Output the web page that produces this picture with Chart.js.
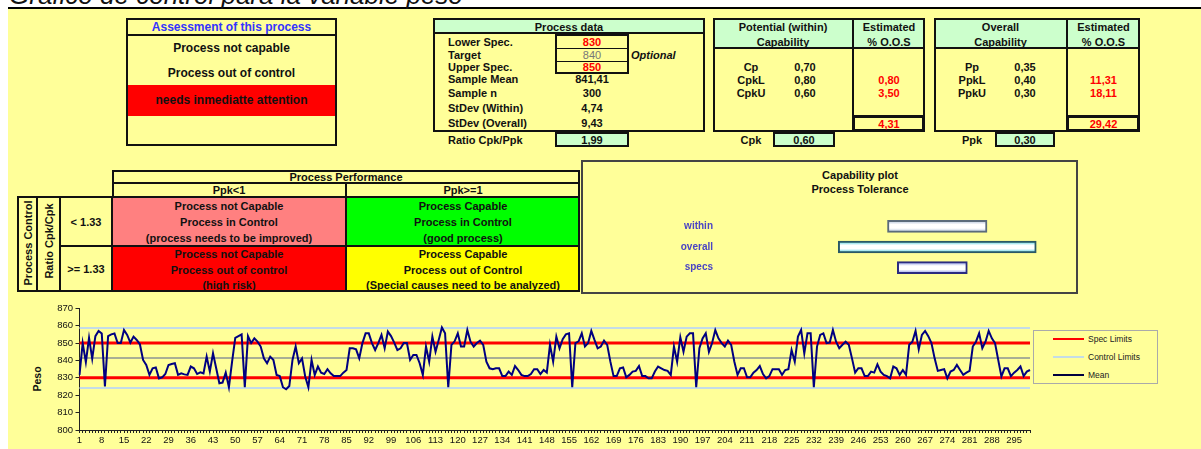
<!DOCTYPE html>
<html>
<head>
<meta charset="utf-8">
<script src="https://cdn.jsdelivr.net/npm/chart.js@4.4.1/dist/chart.umd.min.js"></script>
<style>
body { margin:0; width:1201px; height:449px; overflow:hidden; background:#fff; position:relative;
       font-family:"Liberation Sans", Arial, sans-serif; color:#111; }
#sheet { position:absolute; left:8px; top:9px; right:0; bottom:0; background:#FFFF99; }
#rule { position:absolute; left:8px; top:7px; right:0; height:2px; background:#000; }
#title { position:absolute; left:9px; top:-18px; font-size:26px; line-height:26px; font-style:italic; white-space:nowrap; }
.b { position:absolute; box-sizing:border-box; }
.t { position:absolute; white-space:nowrap; font-weight:bold; font-size:11px; line-height:12px; transform:translate(-50%,-50%); }
.l { position:absolute; white-space:nowrap; font-weight:bold; font-size:11px; line-height:12px; transform:translateY(-50%); }
canvas { position:absolute; }
#capChart { left:660px; top:208px; }
#ctrlChart { left:0; top:300px; }
</style>
</head>
<body>
<div id="sheet"></div>
<div id="rule"></div>
<div id="title">Gráfico de control para la variable peso</div>
<div id="page"></div>
<canvas id="capChart" width="413" height="78"></canvas>
<canvas id="ctrlChart" width="1040" height="149"></canvas>
<script>
// ---- data ----
var assessment = ['Process not capable', 'Process out of control', 'needs inmediatte attention'];
var processLabels = ['Lower Spec.', 'Target', 'Upper Spec.', 'Sample Mean', 'Sample n', 'StDev (Within)', 'StDev (Overall)'];
var processValues = ['830', '840', '850', '841,41', '300', '4,74', '9,43'];
var ratioCpkPpk = '1,99';
var withinLabels = ['Cp', 'CpkL', 'CpkU'];
var withinValues = ['0,70', '0,80', '0,60'];
var withinOOS = ['', '0,80', '3,50'];
var withinTotal = '4,31';
var cpk = '0,60';
var overallLabels = ['Pp', 'PpkL', 'PpkU'];
var overallValues = ['0,35', '0,40', '0,30'];
var overallOOS = ['', '11,31', '18,11'];
var overallTotal = '29,42';
var ppk = '0,30';

var capLabels = ['within', 'overall', 'specs'];
var capLow = [827.19, 813.12, 830];
var capHigh = [855.63, 869.70, 850];

var specLimits = [830, 850];
var controlLimits = [824.2, 858.6];
var meanValue = 841.41;
var peso = [
  831.7, 850, 839, 853, 841, 854, 857, 855.5, 825, 854,
  855, 855.5, 850, 850, 857.5, 854.7, 850.3, 853.7, 851.8, 849.3,
  840.3, 837.4, 831.7, 835.5, 836, 829.7, 830.3, 832.2, 837.4, 838,
  838.4, 831.7, 832.6, 832, 831.7, 836.5, 835.5, 832.2, 833.2, 832.6,
  842.2, 833.6, 844.1, 835.5, 826.9, 827.3, 833, 824.6, 839.3, 853,
  854, 855, 824.6, 854, 850, 852.7, 850.8, 848, 841.2, 838.4,
  842.2, 840.3, 831.7, 831, 824.6, 823.4, 825.3, 840.3, 848, 838.4,
  841.2, 830.8, 824.6, 840.3, 831.7, 836.5, 833, 832.2, 835, 832.6,
  831, 831, 831, 833, 834.5, 847, 847, 846.4, 841.2, 850,
  855.6, 855.6, 850, 846, 850, 854.7, 847, 856.6, 854, 850.3,
  846, 847, 850, 850, 840.3, 843.2, 843.2, 838.4, 831.7, 848,
  839.3, 853.7, 845, 851.8, 859, 855.6, 824.6, 849, 851, 855.6,
  848, 848, 857.5, 850.8, 848, 850, 851.4, 849, 839.3, 835.5,
  835, 835.5, 835.5, 831, 831, 833.6, 831.7, 836.8, 834.5, 831.7,
  831, 831, 832.2, 835, 835, 832.2, 834.5, 833, 849, 839.3,
  853.7, 847, 852.2, 855, 855.6, 824.6, 850, 851, 855.6, 848,
  850, 857, 851.8, 847, 848, 851.4, 849, 839.3, 831, 831,
  835.5, 836, 830.3, 831.7, 833.6, 834, 836.8, 831, 831, 829.7,
  829.7, 833.6, 836.5, 835.5, 834.5, 834, 831.7, 848, 839.3, 853.3,
  845, 853.7, 855.6, 855.6, 824.6, 847, 852.7, 855.6, 845, 850,
  857.5, 852.7, 850, 848, 851.4, 849, 839.3, 831.7, 835.5, 835.5,
  830.3, 830.3, 833, 834.5, 836.8, 832.2, 829.7, 831, 835, 835,
  835, 831.7, 834.5, 835, 846, 839.3, 853.7, 857.5, 844.1, 855.6,
  855.6, 824.6, 848, 854.7, 855.6, 850, 850.3, 857.5, 850.8, 847,
  849, 850.8, 849, 841.2, 833, 835.5, 835.5, 831, 831, 833.6,
  833, 837.8, 833.6, 831.7, 831, 829.7, 836.5, 835.5, 831.7, 834.5,
  831.7, 849, 850.8, 857, 846.4, 854.7, 857, 854, 850, 841.2,
  834, 834.5, 835, 829.7, 833.6, 834.5, 837.4, 834.5, 831.7, 833,
  834, 848, 850.8, 855.6, 847, 850.8, 857, 852.7, 850, 840.3,
  830.8, 835.5, 835.5, 831, 833, 834.5, 836.5, 831, 833.6, 834.5
];
var sampleNo = peso.map(function (v, i) { return String(i + 1); });

// ---- sheet helpers ----
var page = document.getElementById('page');
var LINE = '2px solid #111';
function rect(x1, y1, x2, y2, css) {
    var d = document.createElement('div');
    d.className = 'b';
    d.style.cssText = 'left:' + x1 + 'px;top:' + y1 + 'px;width:' + (x2 - x1) + 'px;height:' + (y2 - y1) + 'px;' + (css || '');
    page.appendChild(d);
}
function txt(x, y, s, css, cls) {
    var d = document.createElement('div');
    d.className = cls || 't';
    d.style.cssText = 'left:' + x + 'px;top:' + y + 'px;' + (css || '');
    d.textContent = s;
    page.appendChild(d);
}

// assessment box
rect(126, 18, 337, 146, 'border:' + LINE);
rect(126, 34, 337, 36, 'background:#111');
rect(128, 85, 335, 116, 'background:#ff0000');
txt(231.5, 26.5, 'Assessment of this process', 'font-size:12px;color:#3333ff');
txt(231.5, 48, assessment[0], 'font-size:12px');
txt(231.5, 72.5, assessment[1], 'font-size:12px');
txt(231.5, 100, assessment[2], 'font-size:12px');

// process data
rect(433, 18, 705, 132, 'border:' + LINE);
rect(435, 20, 703, 34, 'background:#ccffcc;border-bottom:' + LINE);
txt(569, 26.7, 'Process data');
rect(555, 34, 629, 74, 'border:' + LINE);
rect(555, 47.5, 629, 61.5, 'border-top:1px solid #111;border-bottom:1px solid #111');
var rowY = [41.7, 55, 67.3, 79.3, 93.3, 108.3, 123.3];
processLabels.forEach(function (p, i) {
    txt(448, rowY[i], p, '', 'l');
    var css = '';
    if (i === 0 || i === 2) css = 'color:#ff0000';
    if (i === 1) css = 'color:#777;font-weight:normal';
    txt(592, rowY[i], processValues[i], css);
});
txt(631, 55, 'Optional', 'font-style:italic', 'l');
txt(448, 140, 'Ratio Cpk/Ppk', '', 'l');
rect(555, 132, 629, 147, 'background:#ccffcc;border:' + LINE);
txt(592, 139.5, ratioCpkPpk);

// potential (within) / overall capability
function capBlock(x1, xDiv, x2, head, labX, valX, labels, values, oos, total, kLabel, kBoxX1, kBoxX2, kVal) {
    rect(x1, 18, x2, 132, 'border:' + LINE);
    rect(x1 + 2, 20, x2 - 2, 48, 'background:#ccffcc');
    rect(x1, 47, x2, 49, 'background:#111');
    rect(xDiv - 1, 18, xDiv + 1, 132, 'background:#111');
    txt((x1 + xDiv) / 2, 27.3, head);
    txt((x1 + xDiv) / 2, 41.7, 'Capability');
    txt((xDiv + x2) / 2, 27.3, 'Estimated');
    txt((xDiv + x2) / 2, 41.7, '% O.O.S');
    var ys = [67.3, 80, 93.3];
    labels.forEach(function (lb, i) {
        txt(labX, ys[i], lb);
        txt(valX, ys[i], values[i]);
        if (oos[i]) txt((xDiv + x2) / 2, ys[i], oos[i], 'color:#ff0000');
    });
    rect(xDiv - 1, 114.5, x2, 132, 'border:3px solid #111');
    txt((xDiv + x2) / 2, 123.5, total, 'color:#ff0000');
    txt(labX, 140, kLabel);
    rect(kBoxX1, 132, kBoxX2, 147, 'background:#ccffcc;border:' + LINE);
    txt((kBoxX1 + kBoxX2) / 2, 139.5, kVal);
}
capBlock(713, 853, 925, 'Potential (within)', 751, 805, withinLabels, withinValues, withinOOS, withinTotal, 'Cpk', 773, 835, cpk);
capBlock(934, 1067, 1140, 'Overall', 972, 1025, overallLabels, overallValues, overallOOS, overallTotal, 'Ppk', 995, 1055, ppk);

// process performance matrix
rect(112, 170, 580, 184, 'border:' + LINE);
txt(346, 176.5, 'Process Performance');
rect(112, 182, 347, 198, 'border:' + LINE);
rect(345, 182, 580, 198, 'border:' + LINE);
txt(229, 190, 'Ppk<1');
txt(463, 190, 'Ppk>=1');
rect(17, 196, 38, 292, 'border:' + LINE);
rect(36, 196, 61, 292, 'border:' + LINE);
rect(59, 196, 113, 247, 'border:' + LINE);
rect(59, 245, 113, 292, 'border:' + LINE);
txt(27.5, 243, 'Process Control', 'transform:translate(-50%,-50%) rotate(-90deg)');
txt(48.5, 241, 'Ratio Cpk/Cpk', 'transform:translate(-50%,-50%) rotate(-90deg)');
txt(86, 221.5, '< 1.33');
txt(86, 268.5, '>= 1.33');
rect(111, 196, 347, 247, 'background:#ff8080;border:' + LINE);
rect(345, 196, 580, 247, 'background:#00ff00;border:' + LINE);
rect(111, 245, 347, 292, 'background:#ff0000;border:' + LINE);
rect(345, 245, 580, 292, 'background:#ffff00;border:' + LINE);
var cells = [
    [229, [206, 222.3, 237.5], ['Process not Capable', 'Process in Control', '(process needs to be improved)']],
    [463, [206, 222.3, 237.5], ['Process Capable', 'Process in Control', '(good process)']],
    [229, [254, 269.5, 285], ['Process not Capable', 'Process out of control', '(high risk)']],
    [463, [254, 269.5, 285], ['Process Capable', 'Process out of Control', '(Special causes need to be analyzed)']]
];
cells.forEach(function (c) {
    c[2].forEach(function (s, i) { txt(c[0], c[1][i], s); });
});

// capability plot frame
rect(581, 160, 1078, 294, 'border:2px solid #444');
txt(860, 175, 'Capability plot');
txt(860, 188.5, 'Process Tolerance');

// control chart axis title + legend
txt(37, 379, 'Peso', 'font-size:10.5px;transform:translate(-50%,-50%) rotate(-90deg)');
rect(1033, 330, 1158, 384, 'border:1px solid #aaa');
var legendItems = [['Spec Limits', '#ff0000', 2.5, 339], ['Control Limits', '#c4dce6', 2, 357.3], ['Mean', '#000040', 1.2, 375]];
legendItems.forEach(function (it) {
    rect(1053, it[3] - it[2] / 2, 1084, it[3] + it[2] / 2, 'background:' + it[1]);
    txt(1088, it[3], it[0], 'font-weight:normal;font-size:8.5px;line-height:10px;color:#222', 'l');
});

// ---- capability chart ----
var capEdge = ['#5b6b7b', '#2a5866', '#2b2b80'];
var capTint = ['#a9bbd4', '#33c8d8', '#8190e2'];
new Chart(document.getElementById('capChart'), {
    type: 'bar',
    data: {
        labels: capLabels,
        datasets: [{
            data: capLabels.map(function (c, i) { return [capLow[i], capHigh[i]]; }),
            backgroundColor: function (c) {
                var sc = c.chart.scales.y;
                var y = (sc && c.dataIndex !== undefined) ? sc.getPixelForValue(c.dataIndex) : NaN;
                if (!isFinite(y)) return '#ffffff';
                var g = c.chart.ctx.createLinearGradient(0, y - 6, 0, y + 6);
                g.addColorStop(0, capTint[c.dataIndex]);
                g.addColorStop(0.35, '#ffffff');
                g.addColorStop(0.65, '#ffffff');
                g.addColorStop(1, capTint[c.dataIndex]);
                return g;
            },
            borderColor: capEdge,
            borderWidth: 2,
            borderSkipped: false,
            barThickness: 12
        }]
    },
    options: {
        indexAxis: 'y',
        responsive: false,
        animation: false,
        layout: { padding: 0 },
        plugins: { legend: { display: false }, tooltip: { enabled: false } },
        scales: {
            x: { display: false, min: 777.9, max: 880.2 },
            y: {
                grid: { display: false, drawTicks: false },
                border: { display: false },
                ticks: { padding: 2, color: '#4a44c4', font: { family: 'Liberation Sans', size: 10, weight: 'bold' } },
                afterFit: function (s) { s.width = 55; }
            }
        }
    }
});

// ---- control chart ----
function flat(v) { return peso.map(function () { return v; }); }
function limitLine(label, v, color, w) {
    return { label: label, data: flat(v), borderColor: color, borderWidth: w, pointRadius: 0, fill: false };
}
new Chart(document.getElementById('ctrlChart'), {
    type: 'line',
    data: {
        labels: sampleNo,
        datasets: [
            { label: 'Peso', data: peso, borderColor: '#000080', borderWidth: 2, pointRadius: 0, tension: 0, fill: false },
            limitLine('Mean', meanValue, '#55608f', 1.2),
            limitLine('Upper Spec', specLimits[1], '#ff0000', 3),
            limitLine('Lower Spec', specLimits[0], '#ff0000', 3),
            limitLine('UCL', controlLimits[1], '#c4dce6', 2),
            limitLine('LCL', controlLimits[0], '#c4dce6', 2)
        ]
    },
    options: {
        responsive: false,
        animation: false,
        layout: { padding: { top: 8.3, right: 10, left: 0, bottom: 0 } },
        plugins: { legend: { display: false }, tooltip: { enabled: false } },
        scales: {
            x: {
                grid: { drawOnChartArea: false, drawTicks: true, tickLength: 3, color: '#222' },
                border: { color: '#222' },
                ticks: {
                    autoSkip: false, maxRotation: 0, padding: 2, color: '#111',
                    font: { family: 'Liberation Sans', size: 9.5 },
                    callback: function (v, i) { return i % 7 === 0 ? sampleNo[i] : ''; }
                },
                afterFit: function (s) { s.height = 19; }
            },
            y: {
                min: 800, max: 870,
                grid: { drawOnChartArea: false, tickLength: 4, color: '#222' },
                border: { color: '#222' },
                ticks: { stepSize: 10, padding: 2.5, color: '#111', font: { family: 'Liberation Sans', size: 9.5 } },
                afterFit: function (s) { s.width = 79.5; }
            }
        }
    }
});
</script>
</body>
</html>
